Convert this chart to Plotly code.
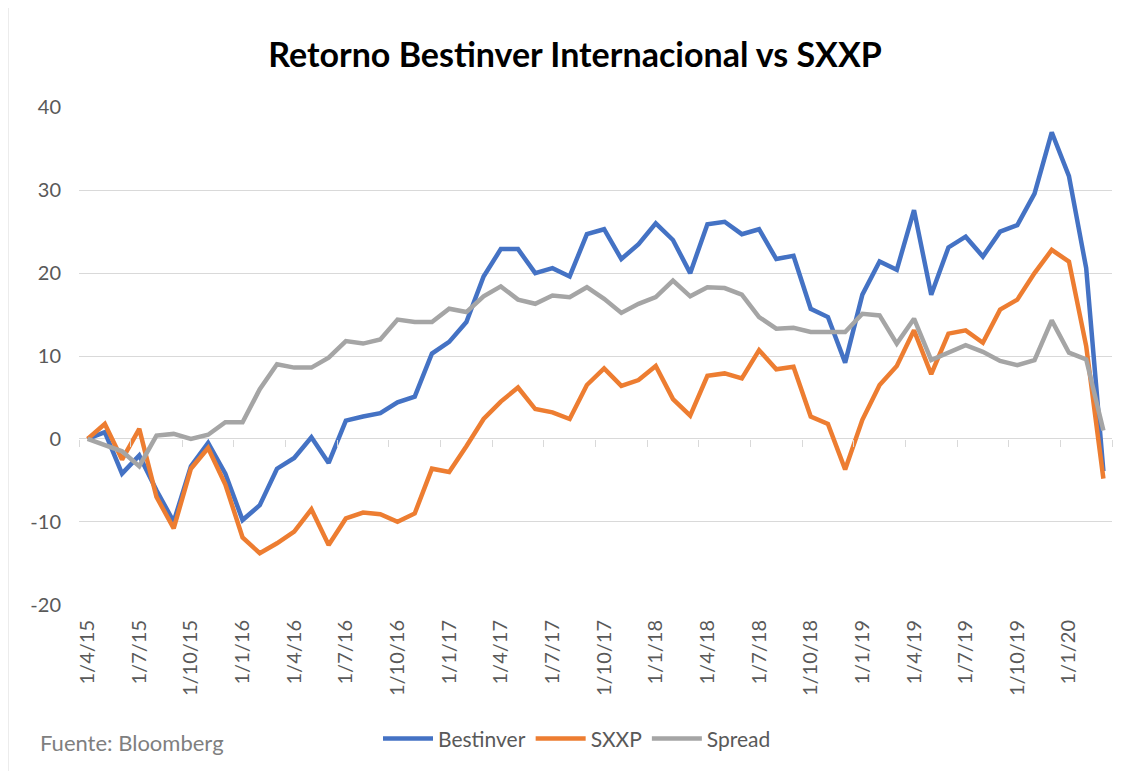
import plotly.graph_objects as go

# ---- data ----
months = ["1/4/15","1/5/15","1/6/15","1/7/15","1/8/15","1/9/15","1/10/15","1/11/15","1/12/15",
          "1/1/16","1/2/16","1/3/16","1/4/16","1/5/16","1/6/16","1/7/16","1/8/16","1/9/16","1/10/16","1/11/16","1/12/16",
          "1/1/17","1/2/17","1/3/17","1/4/17","1/5/17","1/6/17","1/7/17","1/8/17","1/9/17","1/10/17","1/11/17","1/12/17",
          "1/1/18","1/2/18","1/3/18","1/4/18","1/5/18","1/6/18","1/7/18","1/8/18","1/9/18","1/10/18","1/11/18","1/12/18",
          "1/1/19","1/2/19","1/3/19","1/4/19","1/5/19","1/6/19","1/7/19","1/8/19","1/9/19","1/10/19","1/11/19","1/12/19",
          "1/1/20","1/2/20","1/3/20"]

bestinver = [0, 0.8, -4.2, -2.0, -6.2, -10.0, -3.3, -0.5, -4.2, -9.8,
             -8.0, -3.6, -2.3, 0.2, -2.9, 2.2, 2.7, 3.1, 4.4, 5.1,
             10.3, 11.7, 14.1, 19.6, 22.9, 22.9, 20.0, 20.6, 19.6, 24.7,
             25.3, 21.7, 23.5, 26.0, 24.0, 20.0, 25.9, 26.2, 24.7, 25.3,
             21.7, 22.1, 15.7, 14.7, 9.2, 17.4, 21.4, 20.4, 27.6, 17.4,
             23.1, 24.4, 22.0, 25.0, 25.8, 29.6, 37.0, 31.7, 20.6, -3.9]

sxxp = [0, 1.8, -2.5, 1.2, -7.0, -10.8, -3.6, -1.1, -5.5, -11.9,
        -13.8, -12.6, -11.2, -8.5, -12.8, -9.6, -8.9, -9.1, -10.0, -9.0,
        -3.6, -4.0, -0.9, 2.4, 4.5, 6.2, 3.6, 3.2, 2.4, 6.5,
        8.5, 6.4, 7.1, 8.8, 4.8, 2.8, 7.6, 7.9, 7.3, 10.7,
        8.4, 8.7, 2.7, 1.8, -3.7, 2.3, 6.5, 8.8, 13.1, 7.8,
        12.7, 13.1, 11.6, 15.6, 16.8, 20.0, 22.8, 21.4, 11.2, -4.8]

spread = [0, -0.7, -1.5, -3.3, 0.4, 0.6, 0.0, 0.5, 2.0, 2.0,
          6.0, 9.0, 8.6, 8.6, 9.8, 11.8, 11.5, 12.0, 14.4, 14.1,
          14.1, 15.7, 15.3, 17.2, 18.4, 16.8, 16.3, 17.3, 17.1, 18.3,
          16.9, 15.2, 16.3, 17.1, 19.1, 17.2, 18.3, 18.2, 17.4, 14.7,
          13.3, 13.4, 12.9, 12.9, 12.9, 15.1, 14.9, 11.5, 14.5, 9.5,
          10.4, 11.3, 10.5, 9.4, 8.9, 9.5, 14.3, 10.4, 9.6, 1.0]

series_names = ["Bestinver", "SXXP", "Spread"]
series_colors = ["#4472C4", "#ED7D31", "#A5A5A5"]

y_ticks = [-20, -10, 0, 10, 20, 30, 40]
y_tick_labels = ["-20", "-10", "0", "10", "20", "30", "40"]
x_tick_labels = months[::3]

title_text = "Retorno Bestinver Internacional vs SXXP"
source_text = "Fuente: Bloomberg"

# ---- figure ----
FONT = "Lato"
TXT = "#595959"
GRID = "#D9D9D9"

# the page body adds an 8px offset; margins compensate for it
OFF = 8
ML, MT = 79 - OFF, 107 - OFF
PW, PH = 1033, 497.6
MR = 1133 - ML - PW
MB = 771 - MT - PH

fig = go.Figure()
for name, vals, col in zip(series_names, [bestinver, sxxp, spread], series_colors):
    fig.add_trace(go.Scatter(x=months, y=vals, mode="lines", name=name,
                             line=dict(color=col, width=4.5, shape="linear"),
                             hoverinfo="x+y+name"))

# helper trace for the boundary tick marks hanging from the zero line
n = len(months)
boundaries = [k - 0.5 for k in range(0, n + 1, 3)]
fig.add_trace(go.Scatter(x=[], y=[], xaxis="x2", showlegend=False, hoverinfo="skip"))

ymin, ymax = -20.05, 40.05
zero_pos = (0 - ymin) / (ymax - ymin)

fig.update_layout(
    width=1133, height=771,
    paper_bgcolor="white", plot_bgcolor="white",
    margin=dict(l=ML, r=MR, t=MT, b=MB, autoexpand=False),
    font=dict(family=FONT, color=TXT),
    title=dict(text="<b>" + title_text + "</b>", x=(575 - OFF) / 1133, xanchor="center",
               y=1 - (55 - OFF) / 771, yanchor="middle",
               font=dict(family=FONT, size=34, color="#000000")),
    xaxis=dict(type="category", range=[-0.5, n - 0.5], tickmode="array",
               tickvals=x_tick_labels, ticktext=x_tick_labels, tickangle=-90,
               ticks="", showgrid=False, zeroline=False, showline=False,
               tickfont=dict(family=FONT, size=20, color=TXT), ticklabelstandoff=10),
    xaxis2=dict(overlaying="x", anchor="free", position=zero_pos, side="bottom",
                range=[-0.5, n - 0.5], tickmode="array", tickvals=boundaries,
                ticks="outside", ticklen=7, tickwidth=1, tickcolor=GRID,
                showticklabels=False, showgrid=False, zeroline=False, showline=False),
    yaxis=dict(range=[ymin, ymax], tickmode="array", tickvals=y_ticks, ticktext=y_tick_labels,
               showgrid=True, gridcolor=GRID, gridwidth=1,
               zeroline=True, zerolinecolor=GRID, zerolinewidth=1,
               showline=False, ticks="", ticklabelstandoff=17,
               tickfont=dict(family=FONT, size=20, color=TXT)),
    legend=dict(orientation="h", x=(577 - 79) / PW, xanchor="center",
                y=-(738 - 604.3) / PH, yanchor="middle",
                font=dict(family=FONT, size=21, color=TXT), itemwidth=50,
                bgcolor="rgba(0,0,0,0)"),
    showlegend=True,
)

fig.add_annotation(text=source_text, xref="paper", yref="paper",
                   x=(38 - 79) / PW, y=-(742 - 604.3) / PH, xanchor="left", yanchor="middle",
                   showarrow=False, font=dict(family=FONT, size=22, color="#7F7F7F"))

# faint chart-area frame line on the left edge (page x ~ 8)
fig.add_shape(type="line", xref="paper", yref="paper",
              x0=(8 - 79) / PW, x1=(8 - 79) / PW, y0=-MB / PH, y1=1 + MT / PH,
              line=dict(color=GRID, width=1))

fig.write_html("out.html")
